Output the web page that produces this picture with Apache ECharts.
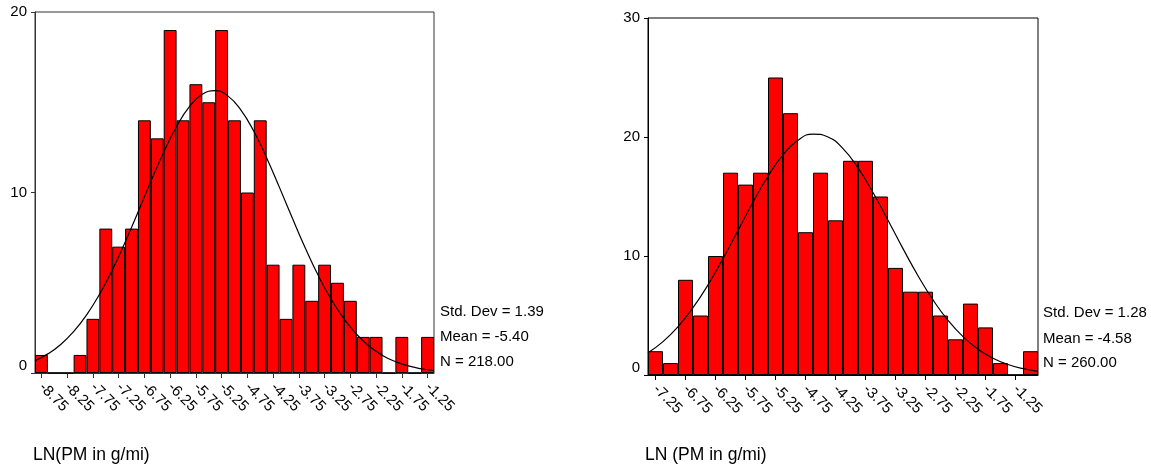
<!DOCTYPE html>
<html>
<head>
<meta charset="utf-8">
<script src="https://cdn.jsdelivr.net/npm/echarts@6/dist/echarts.min.js"></script>
<style>
  html, body { margin: 0; padding: 0; background: #fff; }
  #chart { width: 1151px; height: 467px; }
</style>
</head>
<body>
<div id="chart"></div>
<script>
// ---- Left histogram (N = 218) ----
var leftCategories = ["-8.75","-8.50","-8.25","-8.00","-7.75","-7.50","-7.25","-7.00","-6.75","-6.50",
  "-6.25","-6.00","-5.75","-5.50","-5.25","-5.00","-4.75","-4.50","-4.25","-4.00",
  "-3.75","-3.50","-3.25","-3.00","-2.75","-2.50","-2.25","-2.00","-1.75","-1.50","-1.25"];
var leftCounts = [1,0,0,1,3,8,7,8,14,13,19,14,16,15,19,14,10,14,6,3,6,4,6,5,4,2,2,0,2,0,2];
var leftCurveX = [-8.875,-8.625,-8.375,-8.125,-7.875,-7.625,-7.375,-7.125,-6.875,-6.625,-6.375,-6.125,
  -5.875,-5.625,-5.375,-5.125,-4.875,-4.625,-4.375,-4.125,-3.875,-3.625,-3.375,-3.125,-2.875,-2.625,
  -2.375,-2.125,-1.875,-1.625,-1.375,-1.125];
var leftCurveY = [0.687,1.060,1.583,2.290,3.205,4.344,5.700,7.243,8.908,10.609,12.230,13.653,
  14.755,15.438,15.639,15.339,14.565,13.390,11.918,10.270,8.569,6.922,5.413,4.099,3.004,2.132,
  1.465,0.975,0.628,0.391,0.236,0.138];
var leftStats = ["Std. Dev = 1.39", "Mean = -5.40", "N = 218.00"];
var leftTitle = "LN(PM in g/mi)";

// ---- Right histogram (N = 260) ----
var rightCategories = ["-7.25","-7.00","-6.75","-6.50","-6.25","-6.00","-5.75","-5.50","-5.25","-5.00",
  "-4.75","-4.50","-4.25","-4.00","-3.75","-3.50","-3.25","-3.00","-2.75","-2.50",
  "-2.25","-2.00","-1.75","-1.50","-1.25","-1.00"];
var rightCounts = [2,1,8,5,10,17,16,17,25,22,12,17,13,18,18,15,9,7,7,5,3,6,4,1,0,2];
var rightCurveX = [-7.375,-7.125,-6.875,-6.625,-6.375,-6.125,-5.875,-5.625,-5.375,-5.125,-4.875,-4.625,
  -4.375,-4.125,-3.875,-3.625,-3.375,-3.125,-2.875,-2.625,-2.375,-2.125,-1.875,-1.625,-1.375,-1.125,-0.875];
var rightCurveY = [1.867,2.807,4.060,5.654,7.578,9.779,12.144,14.518,16.705,18.503,19.728,20.246,
  20.001,19.018,17.408,15.337,13.006,10.618,8.343,6.310,4.594,3.220,2.172,1.410,0.881,0.530,0.307];
var rightStats = ["Std. Dev = 1.28", "Mean = -4.58", "N = 260.00"];
var rightTitle = "LN (PM in g/mi)";

var FONT = "Liberation Sans, Arial, sans-serif";

function pairs(xs, ys) {
  return xs.map(function (x, i) { return [x, ys[i]]; });
}

function catAxis(gridIndex, cats, lineColor) {
  return {
    type: 'category', gridIndex: gridIndex, data: cats,
    boundaryGap: true,
    axisLine: { lineStyle: { color: lineColor, width: 1 } },
    axisTick: { show: true, interval: 1, alignWithLabel: true, length: 5, lineStyle: { color: lineColor } },
    axisLabel: { interval: 1, rotate: -45, margin: 12, color: '#000', fontFamily: FONT, fontSize: 15 },
    splitLine: { show: false }
  };
}
function valXAxis(gridIndex, min, max) {
  return { type: 'value', gridIndex: gridIndex, min: min, max: max, show: false };
}
function yAx(gridIndex, max, lineColor) {
  return {
    type: 'value', gridIndex: gridIndex, min: 0, max: max, interval: 10,
    axisLine: { show: true, lineStyle: { color: lineColor, width: 1 } },
    axisTick: { show: true, length: 4, lineStyle: { color: lineColor } },
    axisLabel: { color: '#000', fontFamily: FONT, fontSize: 15, margin: 8, verticalAlignMinLabel: 'bottom' },
    splitLine: { show: false }
  };
}
function statTexts(x, ys, lines) {
  return lines.map(function (t, i) {
    return { type: 'text', left: x, top: ys[i] - 9,
      style: { text: t, font: '15px ' + FONT, fill: '#000' } };
  });
}

var chart = echarts.init(document.getElementById('chart'), null, { renderer: 'canvas' });
var option = {
  backgroundColor: '#fff',
  animation: false,
  grid: [
    { left: 35, top: 12, width: 399, height: 361, show: true, borderColor: '#333', borderWidth: 1, backgroundColor: 'transparent' },
    { left: 648, top: 18, width: 390, height: 357, show: true, borderColor: '#000', borderWidth: 1, backgroundColor: 'transparent' }
  ],
  xAxis: [
    catAxis(0, leftCategories, '#333'),
    valXAxis(0, -8.875, -1.125),
    catAxis(1, rightCategories, '#000'),
    valXAxis(1, -7.375, -0.875)
  ],
  yAxis: [
    yAx(0, 20, '#333'),
    yAx(1, 30, '#000')
  ],
  series: [
    { type: 'bar', xAxisIndex: 0, yAxisIndex: 0, data: leftCounts, barCategoryGap: '0%',
      itemStyle: { color: '#ff0000', borderColor: '#000', borderWidth: 1 } },
    { type: 'line', xAxisIndex: 1, yAxisIndex: 0, data: pairs(leftCurveX, leftCurveY), smooth: true,
      symbol: 'none', z: 5, lineStyle: { color: '#000', width: 1.2 } },
    { type: 'bar', xAxisIndex: 2, yAxisIndex: 1, data: rightCounts, barCategoryGap: '0%',
      itemStyle: { color: '#ff0000', borderColor: '#000', borderWidth: 1 } },
    { type: 'line', xAxisIndex: 3, yAxisIndex: 1, data: pairs(rightCurveX, rightCurveY), smooth: true,
      symbol: 'none', z: 5, lineStyle: { color: '#000', width: 1.2 } }
  ],
  graphic: [].concat(
    statTexts(440, [313, 338, 363], leftStats),
    statTexts(1043, [314, 340, 364], rightStats),
    [
      { type: 'text', left: 33, top: 446, style: { text: leftTitle, font: '17.5px ' + FONT, fill: '#000' } },
      { type: 'text', left: 645, top: 446, style: { text: rightTitle, font: '17.5px ' + FONT, fill: '#000' } }
    ]
  )
};
chart.setOption(option);
</script>
</body>
</html>
